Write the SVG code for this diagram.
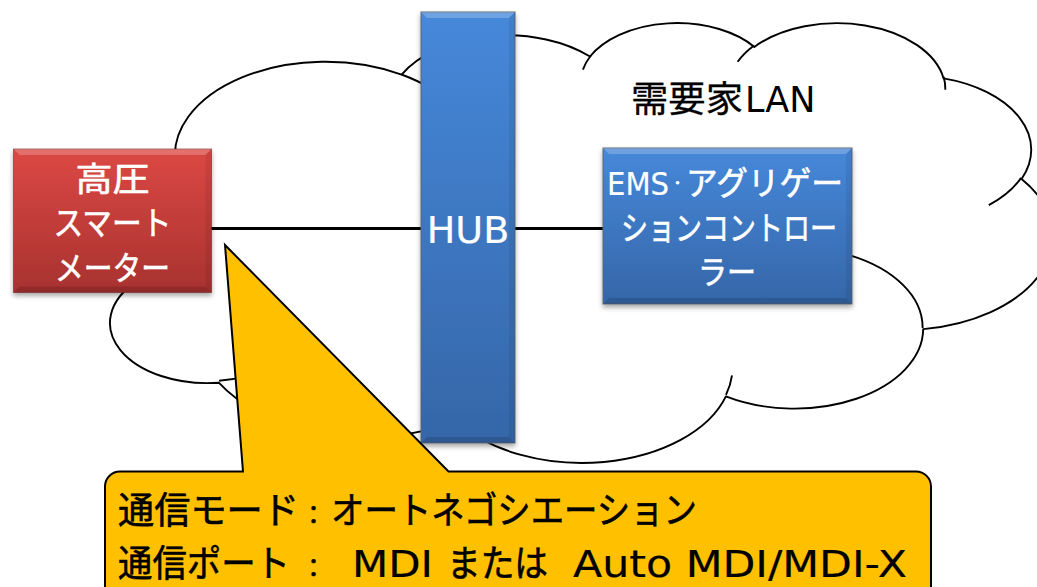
<svg xmlns="http://www.w3.org/2000/svg" width="1037" height="587" viewBox="0 0 1037 587">
<defs>
<style>
.cloud{fill:#fff;stroke:#000;stroke-width:1.9;stroke-linejoin:round}
.inner{fill:none;stroke:#000;stroke-width:1.9}
.wire{stroke:#000;stroke-width:3.2;fill:none}
.jp{font-family:"Noto Sans CJK JP","Noto Sans CJK SC",sans-serif}
.lat{font-family:"DejaVu Sans","Noto Sans CJK JP",sans-serif}
.wt{fill:#fff;stroke:#fff;stroke-width:0.6}
.bk{fill:#000;stroke:#000;stroke-width:0.6}
.hl{fill:#fff;opacity:.22}
.sd{fill:#000;opacity:.14}
.sdl{fill:#000;opacity:.07}
</style>
<linearGradient id="gRed" x1="0" y1="0" x2="0" y2="1">
<stop offset="0" stop-color="#DC4844"/>
<stop offset="1" stop-color="#A8322F"/>
</linearGradient>
<linearGradient id="gBlue" x1="0" y1="0" x2="0" y2="1">
<stop offset="0" stop-color="#4688DA"/>
<stop offset="1" stop-color="#3566A8"/>
</linearGradient>
<filter id="shadow" x="-10%" y="-10%" width="130%" height="130%">
<feDropShadow dx="0" dy="3" stdDeviation="2.5" flood-color="#000" flood-opacity="0.35"/>
</filter>
</defs>

<g id="cloud">
<path class="cloud" d="M176.3 167.9 A150.5 93.6 0 0 1 401.6 74.6 A118.9 74.0 0 0 1 590.0 56.5 A97.3 60.5 0 0 1 754.4 46.9 A108.3 67.1 0 0 1 943.6 78.4 A118.9 74.0 0 0 1 1021.6 179.0 A151.0 93.9 0 0 1 923.2 329.1 A128.9 80.1 0 0 1 725.9 396.4 A150.5 93.8 0 0 1 456.8 421.3 A172.1 107.3 0 0 1 218.8 382.7 A97.2 60.2 0 0 1 136.5 281.6 A96.9 60.5 0 0 1 176.3 167.9 Z"/>
<path class="inner" d="M194.0 288.1 A96.9 60.5 0 0 1 137.5 280.0 M243.8 376.9 A97.2 60.2 0 0 1 219.1 380.8 M456.7 419.5 A150.5 93.8 0 0 1 441.8 401.8 M732.0 375.4 A150.5 93.8 0 0 1 726.0 394.8 M850.1 255.3 A128.9 80.1 0 0 1 922.6 327.9 M1021.1 177.9 A118.9 74.0 0 0 1 988.8 205.1 M943.6 76.8 A108.3 67.1 0 0 1 945.3 89.7 M737.6 61.8 A108.3 67.1 0 0 1 754.1 45.4 M582.9 69.6 A97.3 60.5 0 0 1 590.9 55.5 M401.5 74.5 A150.5 93.6 0 0 1 430.4 88.2 M181.4 182.3 A150.5 93.6 0 0 1 176.3 167.9"/>
<text class="jp bk" y="112" font-size="36" style="stroke-width:0.3"><tspan x="631" textLength="112" lengthAdjust="spacingAndGlyphs">需要家</tspan><tspan class="lat" x="745" font-size="35" style="stroke-width:0">LAN</tspan></text>
</g>

<g id="connectors">
<line class="wire" x1="211" y1="228.5" x2="422" y2="228.5"/>
<line class="wire" x1="514" y1="228.5" x2="604" y2="228.5"/>
</g>

<g id="smart-meter">
<rect x="13.5" y="149" width="198" height="143.5" fill="url(#gRed)" stroke="#7a2a28" stroke-opacity="0.6" stroke-width="1" filter="url(#shadow)"/>
<polygon class="hl" points="13.5,149 211.5,149 205.5,155 19.5,155"/>
<polygon class="sd" points="13.5,292.5 211.5,292.5 205.5,286.5 19.5,286.5"/>
<polygon class="sdl" points="211.5,149 211.5,292.5 205.5,286.5 205.5,155"/>
<text class="jp wt" x="112.5" y="191" font-size="33" text-anchor="middle" textLength="74" lengthAdjust="spacingAndGlyphs">高圧</text>
<text class="jp wt" x="112.5" y="235" font-size="33" text-anchor="middle" textLength="118" lengthAdjust="spacingAndGlyphs">スマート</text>
<text class="jp wt" x="112.5" y="280" font-size="33" text-anchor="middle" textLength="115" lengthAdjust="spacingAndGlyphs">メーター</text>
</g>

<g id="hub">
<rect x="421" y="12" width="94" height="431" fill="url(#gBlue)" stroke="#5a6570" stroke-opacity="0.8" stroke-width="1.2" filter="url(#shadow)"/>
<polygon class="hl" points="421,12 515,12 509,18 427,18"/>
<polygon class="sd" points="421,443 515,443 509,437 427,437"/>
<polygon class="sdl" points="515,12 515,443 509,437 509,18"/>
<text class="lat wt" x="468" y="243" font-size="38" text-anchor="middle" style="stroke-width:0.2">HUB</text>
</g>

<g id="ems">
<rect x="603" y="148" width="249" height="156" fill="url(#gBlue)" stroke="#5a6570" stroke-opacity="0.8" stroke-width="1.2" filter="url(#shadow)"/>
<polygon class="hl" points="603,148 852,148 846,154 609,154"/>
<polygon class="sd" points="603,304 852,304 846,298 609,298"/>
<polygon class="sdl" points="852,148 852,304 846,298 846,154"/>
<text class="jp wt" y="195" font-size="33"><tspan class="lat" x="607" font-size="32" textLength="62" lengthAdjust="spacingAndGlyphs" style="stroke-width:0.2">EMS</tspan><tspan x="672" y="187.2" font-size="11" style="stroke-width:1.1">・</tspan><tspan x="686" y="195" textLength="157" lengthAdjust="spacingAndGlyphs">アグリゲー</tspan></text>
<text class="jp wt" x="729" y="240" font-size="33" text-anchor="middle" textLength="216" lengthAdjust="spacingAndGlyphs">ションコントロー</text>
<text class="jp wt" x="727" y="284" font-size="33" text-anchor="middle" textLength="58" lengthAdjust="spacingAndGlyphs">ラー</text>
</g>

<g id="callout">
<path d="M105 486 A15 15 0 0 1 120 471.5 L243 471.5 L225 245 L448.5 471.5 L916 471.5 A15 15 0 0 1 931 486.5 L931 620 L105 620 Z" fill="#FFC000" stroke="#000" stroke-width="2" stroke-linejoin="miter"/>
<text class="jp bk" y="524" font-size="37"><tspan x="118" textLength="181" lengthAdjust="spacingAndGlyphs">通信モード</tspan><tspan x="301" font-size="25">：</tspan><tspan x="331" textLength="366" lengthAdjust="spacingAndGlyphs">オートネゴシエーション</tspan></text>
<text class="jp bk" y="577" font-size="37"><tspan x="118" textLength="172" lengthAdjust="spacingAndGlyphs">通信ポート</tspan><tspan x="301" font-size="25">：</tspan><tspan class="lat" x="352" font-size="38" textLength="81" lengthAdjust="spacingAndGlyphs" style="stroke-width:0.2">MDI</tspan><tspan x="447" textLength="101" lengthAdjust="spacingAndGlyphs">または</tspan><tspan class="lat" x="573" font-size="38" textLength="334" lengthAdjust="spacingAndGlyphs" style="stroke-width:0.2">Auto MDI/MDI-X</tspan></text>
</g>
</svg>
